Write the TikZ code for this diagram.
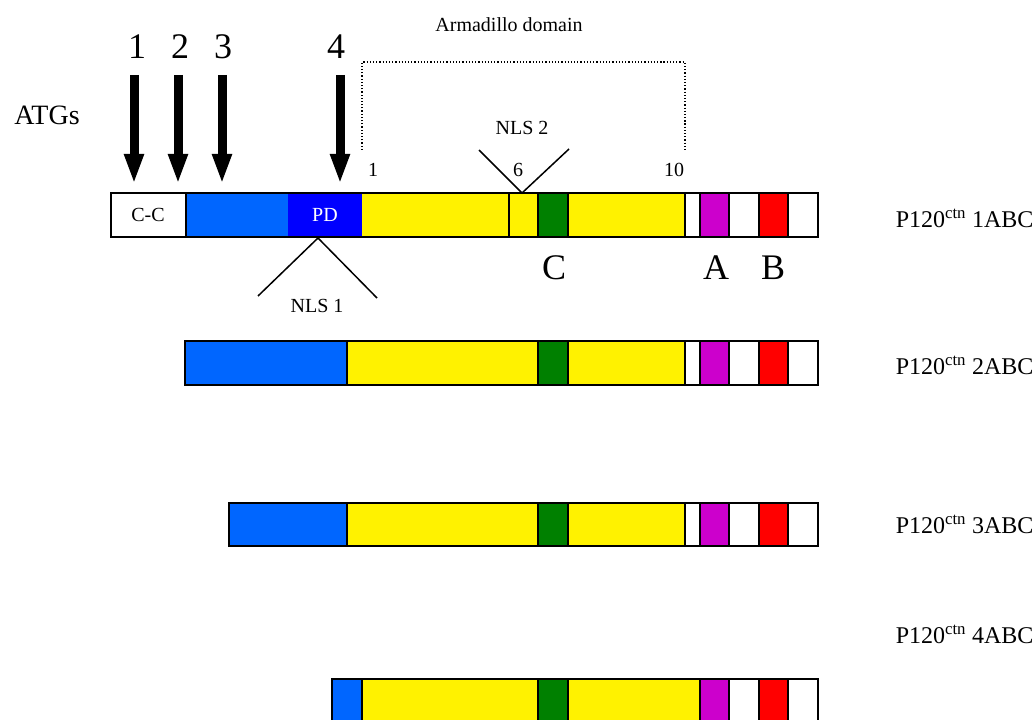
\documentclass[tikz,border=0pt]{standalone}
\usepackage{fontspec}
\setmainfont{Liberation Serif}
\usepackage{xcolor}
\usetikzlibrary{arrows.meta, positioning}
\definecolor{armblue}{RGB}{0,102,255}
\definecolor{pdblue}{RGB}{0,0,255}
\definecolor{armgreen}{RGB}{0,128,0}
\definecolor{armmag}{RGB}{204,0,204}

\begin{document}
\begin{tikzpicture}[x=1bp, y=-1bp, line width=1.5bp,
    atg/.style={-{Triangle[width=18bp,length=30bp]}, line width=9bp},
    small/.style={font=\fontsize{20bp}{24bp}\selectfont, inner sep=0pt},
    big/.style={font=\fontsize{36bp}{40bp}\selectfont, inner sep=0pt},
    isoform/.style={font=\fontsize{24bp}{28bp}\selectfont, anchor=west, inner sep=0pt}]
  \useasboundingbox (0,0) rectangle (1036,720);

  % ATG start sites
  \node[font=\fontsize{28bp}{32bp}\selectfont, inner sep=0pt] (atgs) at (47,115) {ATGs};
  \node[big] (one) at (137,47) {1};
  \node[big] (two) at (180,47) {2};
  \node[big] (three) at (223,47) {3};
  \node[big] (four) at (336,47) {4};
  \coordinate (a1) at (134,75);  \coordinate (t1) at (134,184);
  \coordinate (a2) at (178,75);  \coordinate (t2) at (178,184);
  \coordinate (a3) at (222,75);  \coordinate (t3) at (222,184);
  \coordinate (a4) at (340,75);  \coordinate (t4) at (340,184);
  \draw[atg] (a1) -- (t1);
  \draw[atg] (a2) -- (t2);
  \draw[atg] (a3) -- (t3);
  \draw[atg] (a4) -- (t4);

  % armadillo domain
  \node[small] (arm) at (509,25) {Armadillo domain};
  \coordinate (armL) at (362,150);
  \coordinate (armR) at (685,150);
  \draw[dotted, line width=1.2bp] (armL) |- (523,62) -| (armR);
  \node[small] (rep1) at (373,170) {1};
  \node[small] (rep6) at (518,170) {6};
  \node[small] (rep10) at (674,170) {10};

  % P120ctn 1ABC
  \foreach \a/\b/\c in {111/186/white, 186/288/armblue, 288/362/pdblue, 362/538/yellow,
      538/568/armgreen, 568/685/yellow, 685/700/white, 700/729/armmag, 729/759/white,
      759/788/red, 788/818/white}
    \fill[\c] (\a,193) rectangle (\b,237);
  \draw (111,193) rectangle (818,237);
  \foreach \d in {186,509,538,568,685,700,729,759,788}
    \draw (\d,193) -- (\d,237);
  \node[small] (cc) at (148,215) {C-C};
  \node[small, text=white] (pd) at (325,215) {PD};

  % NLS
  \node[small] (nls2) at (522,128) {NLS 2};
  \coordinate (n2tip) at (522,193);
  \draw (479,150) -- (n2tip) -- (569,149);
  \node[small] (nls1) at (317,306) {NLS 1};
  \coordinate (n1tip) at (318,238);
  \draw (258,296) -- (n1tip) -- (377,298);

  \node[big] (exC) at (554,268) {C};
  \node[big] (exA) at (716,268) {A};
  \node[big] (exB) at (773,268) {B};
  \node[isoform] (iso1) at (895,218) {P120\textsuperscript{ctn} 1ABC};

  % P120ctn 2ABC
  \foreach \a/\b/\c in {185/347/armblue, 347/538/yellow, 538/568/armgreen, 568/685/yellow,
      685/700/white, 700/729/armmag, 729/759/white, 759/788/red, 788/818/white}
    \fill[\c] (\a,341) rectangle (\b,385);
  \draw (185,341) rectangle (818,385);
  \foreach \d in {347,538,568,685,700,729,759,788}
    \draw (\d,341) -- (\d,385);
  \node[isoform] (iso2) at (895,365) {P120\textsuperscript{ctn} 2ABC};

  % P120ctn 3ABC
  \foreach \a/\b/\c in {229/347/armblue, 347/538/yellow, 538/568/armgreen, 568/685/yellow,
      685/700/white, 700/729/armmag, 729/759/white, 759/788/red, 788/818/white}
    \fill[\c] (\a,503) rectangle (\b,546);
  \draw (229,503) rectangle (818,546);
  \foreach \d in {347,538,568,685,700,729,759,788}
    \draw (\d,503) -- (\d,546);
  \node[isoform] (iso3) at (895,524) {P120\textsuperscript{ctn} 3ABC};

  % P120ctn 4ABC
  \foreach \a/\b/\c in {332/362/armblue, 362/538/yellow, 538/568/armgreen, 568/700/yellow,
      700/729/armmag, 729/759/white, 759/788/red, 788/818/white}
    \fill[\c] (\a,679) rectangle (\b,723);
  \draw (332,679) rectangle (818,723);
  \foreach \d in {362,538,568,700,729,759,788}
    \draw (\d,679) -- (\d,723);
  \node[isoform] (iso4) at (895,634) {P120\textsuperscript{ctn} 4ABC};
\end{tikzpicture}
\end{document}
